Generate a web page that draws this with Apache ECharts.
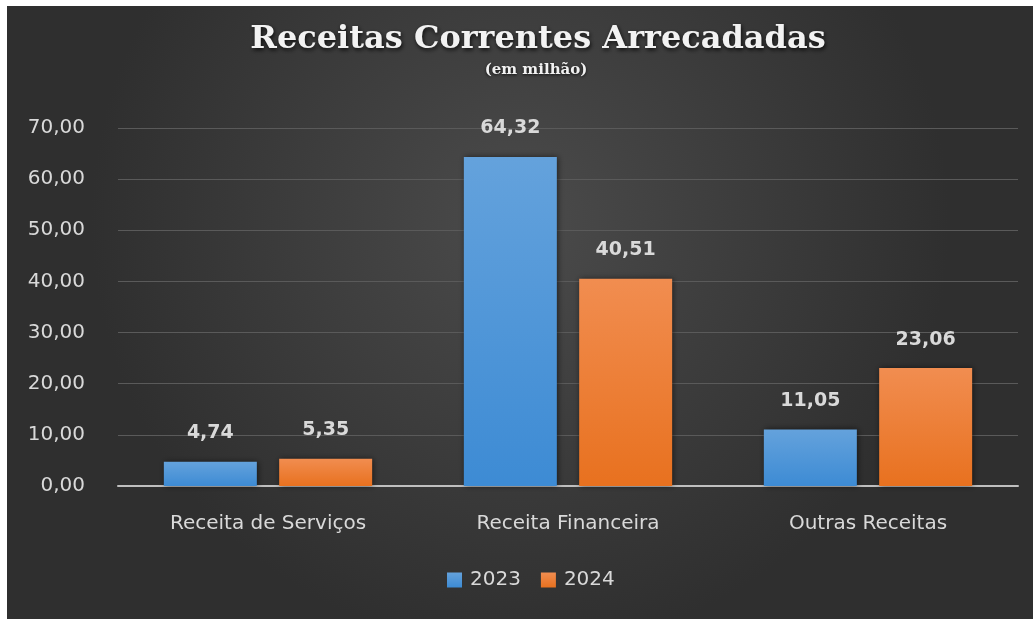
<!DOCTYPE html>
<html>
<head>
<meta charset="utf-8">
<script src="https://cdn.jsdelivr.net/npm/echarts@6/dist/echarts.min.js"></script>
<style>
  html, body { margin: 0; padding: 0; background: #fff; }
  #chart { position: absolute; left: 7px; top: 6px; width: 1026px; height: 613px; }
</style>
</head>
<body>
<div id="chart"></div>
<script>
const categories = ['Receita de Serviços', 'Receita Financeira', 'Outras Receitas']
const values2023 = [4.74, 64.32, 11.05]
const values2024 = [5.35, 40.51, 23.06]
const yTicks = [0, 10, 20, 30, 40, 50, 60, 70]

const fmt = v => v.toFixed(2).replace('.', ',')

const chart = echarts.init(document.getElementById('chart'))

// bar gradients similar to the office style
const blue = new echarts.graphic.LinearGradient(0, 0, 0, 1, [
  { offset: 0, color: '#64a2dc' },
  { offset: 1, color: '#3d8bd4' }
])
const orange = new echarts.graphic.LinearGradient(0, 0, 0, 1, [
  { offset: 0, color: '#f18d50' },
  { offset: 1, color: '#e8711f' }
])

const labelStyle = {
  show: true,
  position: 'top',
  distance: 19,
  color: '#d9d9d9',
  fontFamily: 'DejaVu Sans',
  fontWeight: 'bold',
  fontSize: 19,
  formatter: p => fmt(p.value)
}

const titleShadow = {
  fontFamily: 'DejaVu Serif',
  fontWeight: 'bold',
  color: '#f2f2f2',
  textShadowColor: 'rgba(0,0,0,0.8)',
  textShadowBlur: 4,
  textShadowOffsetX: 1,
  textShadowOffsetY: 2
}

chart.setOption({
  backgroundColor: new echarts.graphic.RadialGradient(0.5, 0.35, 0.7, [
    { offset: 0, color: '#4b4b4b' },
    { offset: 1, color: '#2f2f2f' }
  ]),
  title: [
    {
      text: 'Receitas Correntes Arrecadadas',
      left: 531,
      top: 18,
      textAlign: 'center',
      padding: 0,
      textStyle: Object.assign({}, titleShadow, { fontSize: 32 })
    },
    {
      text: '(em milhão)',
      left: 529,
      top: 57,
      textAlign: 'center',
      padding: 0,
      textStyle: Object.assign({}, titleShadow, { fontSize: 15, textShadowBlur: 3, textShadowOffsetX: 0, textShadowOffsetY: 1 })
    }
  ],
  legend: {
    bottom: 24,
    left: 435,
    itemWidth: 15,
    itemHeight: 15,
    itemGap: 20,
    icon: 'rect',
    textStyle: { color: '#d9d9d9', fontSize: 20, fontFamily: 'DejaVu Sans', padding: [0, 0, 0, 3] },
    data: ['2023', '2024']
  },
  grid: {
    left: 111,
    right: 15,
    top: 122,
    bottom: 133
  },
  xAxis: {
    type: 'category',
    data: categories,
    axisTick: { show: false },
    axisLine: { lineStyle: { color: '#bfbfbf', width: 2 } },
    axisLabel: { color: '#d9d9d9', fontSize: 20, fontFamily: 'DejaVu Sans', margin: 28 }
  },
  yAxis: {
    type: 'value',
    min: yTicks[0],
    max: yTicks[yTicks.length - 1],
    interval: 10,
    axisLine: { show: false },
    axisTick: { show: false },
    axisLabel: { color: '#d9d9d9', fontSize: 20, fontFamily: 'DejaVu Sans', margin: 33, formatter: v => fmt(v) },
    splitLine: { lineStyle: { color: '#5a5a5a', width: 1 } }
  },
  series: [
    {
      name: '2023',
      type: 'bar',
      barWidth: 93,
      barGap: '24%',
      data: values2023,
      itemStyle: {
        color: blue,
        shadowColor: 'rgba(0,0,0,0.55)',
        shadowBlur: 6,
        shadowOffsetX: 1
      },
      label: labelStyle
    },
    {
      name: '2024',
      type: 'bar',
      barWidth: 93,
      data: values2024,
      itemStyle: {
        color: orange,
        shadowColor: 'rgba(0,0,0,0.55)',
        shadowBlur: 6,
        shadowOffsetX: 1
      },
      label: labelStyle
    }
  ],
  color: ['#5b9bd5', '#ed7d31']
})
</script>
</body>
</html>
